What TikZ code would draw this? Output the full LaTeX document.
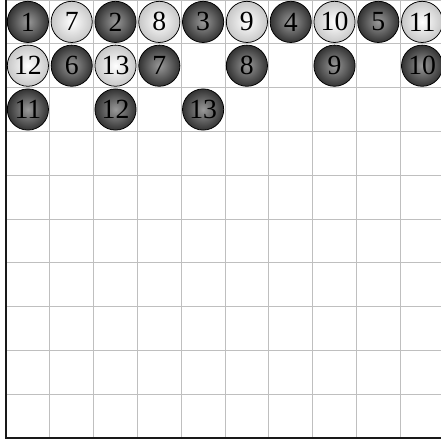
\documentclass[tikz,border=0pt]{standalone}
\usepackage{fontspec}
\setmainfont{Liberation Serif}
\usepackage{xcolor}
\usepackage{tikz}

\begin{document}
\begin{tikzpicture}[
    gridline/.style={draw=black!25, line width=0.6pt},
    axis/.style={draw=black!90, line width=1.1pt},
    black stone/.style={circle, draw=black, line width=0.5pt, inner sep=0pt, minimum size=0.94cm, inner color=black!40, outer color=black!80, font=\fontsize{18}{18}\selectfont},
    white stone/.style={circle, draw=black, line width=0.5pt, inner sep=0pt, minimum size=0.94cm, inner color=white, outer color=black!22, font=\fontsize{18}{18}\selectfont}
]
\useasboundingbox (-0.137,-0.068) rectangle (9.93,10.0);

% Board
\draw[gridline] (0,0) grid (10,10);
\draw[axis] (0,10.2) -- (0,0) -- (10.2,0);

% Black stones
\node[black stone] (b1) at (0.5, 9.5) {1};
\node[black stone] (b2) at (2.5, 9.5) {2};
\node[black stone] (b3) at (4.5, 9.5) {3};
\node[black stone] (b4) at (6.5, 9.5) {4};
\node[black stone] (b5) at (8.5, 9.5) {5};
\node[black stone] (b6) at (1.5, 8.5) {6};
\node[black stone] (b7) at (3.5, 8.5) {7};
\node[black stone] (b8) at (5.5, 8.5) {8};
\node[black stone] (b9) at (7.5, 8.5) {9};
\node[black stone] (b10) at (9.5, 8.5) {10};
\node[black stone] (b11) at (0.5, 7.5) {11};
\node[black stone] (b12) at (2.5, 7.5) {12};
\node[black stone] (b13) at (4.5, 7.5) {13};

% White stones
\node[white stone] (w7) at (1.5, 9.5) {7};
\node[white stone] (w8) at (3.5, 9.5) {8};
\node[white stone] (w9) at (5.5, 9.5) {9};
\node[white stone] (w10) at (7.5, 9.5) {10};
\node[white stone] (w11) at (9.5, 9.5) {11};
\node[white stone] (w12) at (0.5, 8.5) {12};
\node[white stone] (w13) at (2.5, 8.5) {13};

\end{tikzpicture}
\end{document}
